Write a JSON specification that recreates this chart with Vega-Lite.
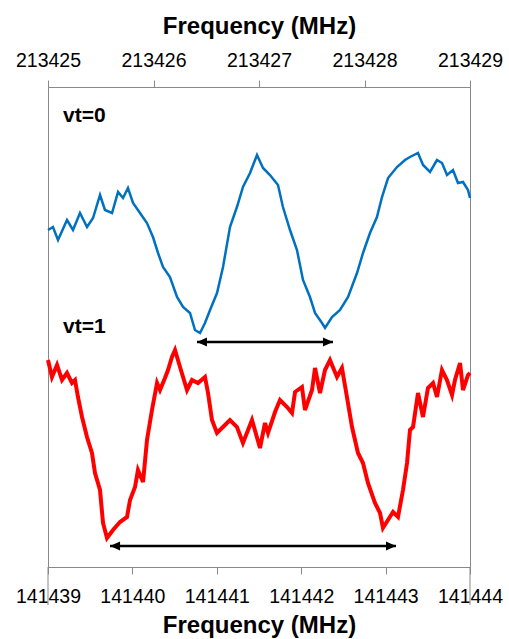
{
  "$schema": "https://vega.github.io/schema/vega-lite/v6.json",
  "width": 422,
  "height": 480,
  "autosize": "none",
  "padding": {"left": 48, "top": 87, "right": 39, "bottom": 72},
  "config": {
    "font": "Liberation Sans",
    "view": {"stroke": "#898989", "strokeWidth": 1},
    "axis": {
      "domainColor": "#898989",
      "tickColor": "#898989",
      "tickSize": 7,
      "labelColor": "#000000",
      "labelFontSize": 19.5,
      "labelFont": "Liberation Sans",
      "titleFont": "Liberation Sans",
      "titleFontSize": 24,
      "titleFontWeight": "bold",
      "titleColor": "#000000",
      "grid": false,
      "labelFlush": false,
      "labelOverlap": false,
      "labelBound": false
    }
  },
  "datasets": {
    "blue": [
      {"f": 213425.000, "v": 337}, {"f": 213425.047, "v": 340}, {"f": 213425.095, "v": 327},
      {"f": 213425.180, "v": 347}, {"f": 213425.237, "v": 337}, {"f": 213425.303, "v": 354},
      {"f": 213425.370, "v": 340}, {"f": 213425.427, "v": 349}, {"f": 213425.493, "v": 372},
      {"f": 213425.540, "v": 357}, {"f": 213425.607, "v": 354}, {"f": 213425.664, "v": 375},
      {"f": 213425.711, "v": 369}, {"f": 213425.758, "v": 379}, {"f": 213425.806, "v": 364},
      {"f": 213425.872, "v": 354}, {"f": 213425.938, "v": 344}, {"f": 213425.995, "v": 330},
      {"f": 213426.043, "v": 314}, {"f": 213426.090, "v": 300}, {"f": 213426.156, "v": 290},
      {"f": 213426.223, "v": 270}, {"f": 213426.280, "v": 260}, {"f": 213426.346, "v": 254},
      {"f": 213426.393, "v": 237}, {"f": 213426.441, "v": 234}, {"f": 213426.488, "v": 244},
      {"f": 213426.536, "v": 257}, {"f": 213426.602, "v": 274}, {"f": 213426.659, "v": 300},
      {"f": 213426.725, "v": 340}, {"f": 213426.791, "v": 360}, {"f": 213426.848, "v": 380},
      {"f": 213426.915, "v": 394}, {"f": 213426.981, "v": 412}, {"f": 213427.038, "v": 399},
      {"f": 213427.104, "v": 392}, {"f": 213427.180, "v": 382}, {"f": 213427.227, "v": 360},
      {"f": 213427.294, "v": 337}, {"f": 213427.360, "v": 317}, {"f": 213427.417, "v": 287},
      {"f": 213427.483, "v": 270}, {"f": 213427.531, "v": 254}, {"f": 213427.597, "v": 244},
      {"f": 213427.626, "v": 239}, {"f": 213427.692, "v": 250}, {"f": 213427.768, "v": 257},
      {"f": 213427.844, "v": 270}, {"f": 213427.929, "v": 294}, {"f": 213427.986, "v": 314},
      {"f": 213428.052, "v": 334}, {"f": 213428.118, "v": 350}, {"f": 213428.166, "v": 370},
      {"f": 213428.223, "v": 389}, {"f": 213428.308, "v": 400}, {"f": 213428.384, "v": 407},
      {"f": 213428.431, "v": 410}, {"f": 213428.507, "v": 414}, {"f": 213428.555, "v": 402},
      {"f": 213428.621, "v": 395}, {"f": 213428.687, "v": 407}, {"f": 213428.735, "v": 404},
      {"f": 213428.782, "v": 392}, {"f": 213428.839, "v": 397}, {"f": 213428.886, "v": 384},
      {"f": 213428.934, "v": 385}, {"f": 213428.981, "v": 377}, {"f": 213429.000, "v": 369}
    ],
    "red": [
      {"f": 141439.000, "v": 207}, {"f": 141439.047, "v": 190}, {"f": 141439.107, "v": 202},
      {"f": 141439.166, "v": 187}, {"f": 141439.225, "v": 194}, {"f": 141439.284, "v": 184},
      {"f": 141439.320, "v": 187}, {"f": 141439.355, "v": 170}, {"f": 141439.403, "v": 150},
      {"f": 141439.462, "v": 130}, {"f": 141439.521, "v": 114}, {"f": 141439.557, "v": 94},
      {"f": 141439.616, "v": 77}, {"f": 141439.652, "v": 44}, {"f": 141439.699, "v": 29},
      {"f": 141439.770, "v": 37}, {"f": 141439.853, "v": 45}, {"f": 141439.936, "v": 50},
      {"f": 141439.972, "v": 67}, {"f": 141440.031, "v": 80}, {"f": 141440.066, "v": 97},
      {"f": 141440.126, "v": 85}, {"f": 141440.173, "v": 127}, {"f": 141440.232, "v": 157},
      {"f": 141440.292, "v": 184}, {"f": 141440.327, "v": 177}, {"f": 141440.386, "v": 189},
      {"f": 141440.422, "v": 197}, {"f": 141440.469, "v": 210}, {"f": 141440.505, "v": 217},
      {"f": 141440.564, "v": 200}, {"f": 141440.647, "v": 177}, {"f": 141440.706, "v": 187},
      {"f": 141440.777, "v": 184}, {"f": 141440.860, "v": 190}, {"f": 141440.896, "v": 174},
      {"f": 141440.943, "v": 147}, {"f": 141441.002, "v": 134}, {"f": 141441.073, "v": 140},
      {"f": 141441.156, "v": 147}, {"f": 141441.239, "v": 140}, {"f": 141441.310, "v": 124},
      {"f": 141441.417, "v": 147}, {"f": 141441.512, "v": 119}, {"f": 141441.571, "v": 144},
      {"f": 141441.607, "v": 134}, {"f": 141441.690, "v": 155}, {"f": 141441.749, "v": 167},
      {"f": 141441.832, "v": 160}, {"f": 141441.891, "v": 154}, {"f": 141441.927, "v": 175},
      {"f": 141442.009, "v": 180}, {"f": 141442.045, "v": 157}, {"f": 141442.128, "v": 177},
      {"f": 141442.164, "v": 199}, {"f": 141442.223, "v": 174}, {"f": 141442.282, "v": 197},
      {"f": 141442.341, "v": 207}, {"f": 141442.424, "v": 190}, {"f": 141442.483, "v": 199},
      {"f": 141442.542, "v": 170}, {"f": 141442.602, "v": 140}, {"f": 141442.673, "v": 114},
      {"f": 141442.732, "v": 104}, {"f": 141442.791, "v": 84}, {"f": 141442.874, "v": 64},
      {"f": 141442.934, "v": 54}, {"f": 141442.969, "v": 39}, {"f": 141443.028, "v": 47},
      {"f": 141443.088, "v": 55}, {"f": 141443.147, "v": 50}, {"f": 141443.206, "v": 77},
      {"f": 141443.254, "v": 104}, {"f": 141443.289, "v": 137}, {"f": 141443.325, "v": 140},
      {"f": 141443.384, "v": 174}, {"f": 141443.443, "v": 150}, {"f": 141443.502, "v": 179},
      {"f": 141443.562, "v": 184}, {"f": 141443.609, "v": 170}, {"f": 141443.668, "v": 197},
      {"f": 141443.727, "v": 187}, {"f": 141443.787, "v": 172}, {"f": 141443.822, "v": 187},
      {"f": 141443.882, "v": 204}, {"f": 141443.917, "v": 177}, {"f": 141443.976, "v": 192},
      {"f": 141444.000, "v": 194}
    ],
    "arrowTop": [
      {"f": 213426.412, "v": 225, "end": "L"},
      {"f": 213427.701, "v": 225, "end": "R"}
    ],
    "arrowBottom": [
      {"f": 141439.735, "v": 21, "end": "L"},
      {"f": 141443.123, "v": 21, "end": "R"}
    ],
    "labelTop": [{"f": 213425.142, "v": 451, "label": "vt=0"}],
    "labelBottom": [{"f": 141439.178, "v": 240, "label": "vt=1"}],
    "edges": [
      {"f": 141439, "v": -38, "v2": 0},
      {"f": 141444, "v": -38, "v2": 0}
    ]
  },
  "layer": [
    {
      "encoding": {
        "x": {
          "field": "f", "type": "quantitative",
          "scale": {"domain": [213425, 213429], "nice": false, "zero": false},
          "axis": {
            "orient": "top", "title": "Frequency (MHz)",
            "values": [213425, 213426, 213427, 213428, 213429],
            "format": "d", "labelPadding": 10, "titlePadding": 12
          }
        },
        "y": {"field": "v", "type": "quantitative", "scale": {"domain": [0, 480], "nice": false, "zero": false}, "axis": null}
      },
      "layer": [
        {"data": {"name": "blue"}, "mark": {"type": "line", "color": "#0070C0", "strokeWidth": 2.5, "interpolate": "linear"}},
        {"data": {"name": "arrowTop"}, "mark": {"type": "line", "color": "#000000", "strokeWidth": 2.5}},
        {
          "data": {"name": "arrowTop"},
          "mark": {"type": "point", "filled": true, "color": "#000000", "size": 100, "opacity": 1},
          "encoding": {"shape": {"field": "end", "type": "nominal", "scale": {"domain": ["L", "R"], "range": ["M0,0L2,-0.9L2,0.9Z", "M0,0L-2,-0.9L-2,0.9Z"]}, "legend": null}}
        },
        {
          "data": {"name": "labelTop"},
          "mark": {"type": "text", "align": "left", "baseline": "middle", "fontSize": 21, "fontWeight": "bold", "color": "#000000", "font": "Liberation Sans"},
          "encoding": {"text": {"field": "label"}}
        }
      ]
    },
    {
      "encoding": {
        "x": {
          "field": "f", "type": "quantitative",
          "scale": {"domain": [141439, 141444], "nice": false, "zero": false},
          "axis": {
            "orient": "bottom", "title": "Frequency (MHz)",
            "values": [141439, 141440, 141441, 141442, 141443, 141444],
            "format": "d", "labelPadding": 13, "titlePadding": 8
          }
        },
        "y": {"field": "v", "type": "quantitative", "scale": {"domain": [0, 480], "nice": false, "zero": false}, "axis": null}
      },
      "layer": [
        {"data": {"name": "red"}, "mark": {"type": "line", "color": "#FF0000", "strokeWidth": 4, "interpolate": "linear"}},
        {"data": {"name": "arrowBottom"}, "mark": {"type": "line", "color": "#000000", "strokeWidth": 2.5}},
        {
          "data": {"name": "arrowBottom"},
          "mark": {"type": "point", "filled": true, "color": "#000000", "size": 100, "opacity": 1},
          "encoding": {"shape": {"field": "end", "type": "nominal", "scale": {"domain": ["L", "R"], "range": ["M0,0L2,-0.9L2,0.9Z", "M0,0L-2,-0.9L-2,0.9Z"]}, "legend": null}}
        },
        {
          "data": {"name": "labelBottom"},
          "mark": {"type": "text", "align": "left", "baseline": "middle", "fontSize": 21, "fontWeight": "bold", "color": "#000000", "font": "Liberation Sans"},
          "encoding": {"text": {"field": "label"}}
        },
        {
          "data": {"name": "edges"},
          "mark": {"type": "rule", "color": "#898989", "strokeWidth": 1},
          "encoding": {"y2": {"field": "v2"}}
        }
      ]
    }
  ],
  "resolve": {"scale": {"x": "independent", "shape": "independent"}}
}
